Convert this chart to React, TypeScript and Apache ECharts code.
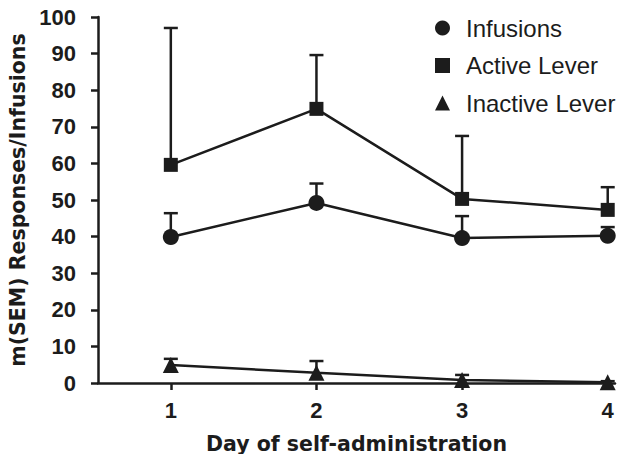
import React, { useEffect, useRef } from "react";
import * as echarts from "echarts";

const days = [1, 2, 3, 4];
const seriesNames = ["Infusions", "Active Lever", "Inactive Lever"];
const infusions = [39.9, 49.2, 39.6, 40.2];
const infusionsSem = [6.5, 5.3, 6.0, 2.4];
const activeLever = [59.6, 74.9, 50.3, 47.3];
const activeLeverSem = [37.4, 14.7, 17.2, 6.2];
const inactiveLever = [4.9, 2.8, 0.8, 0.2];
const inactiveLeverSem = [1.7, 3.2, 1.4, 0.3];

const INK = "#1c1c1c";
const FONT = "'Liberation Sans', Arial, sans-serif";
const NAME_FONT = "'DejaVu Sans', sans-serif";

function errorSeries(values: number[], sem: number[]) {
  return {
    type: "custom",
    silent: true,
    z: 1,
    data: days.map((d, i) => [d, values[i], values[i] + sem[i]]),
    renderItem: (params: any, api: any) => {
      const base = api.coord([api.value(0), api.value(1)]);
      const top = api.coord([api.value(0), api.value(2)]);
      const half = 7;
      return {
        type: "group",
        children: [
          {
            type: "line",
            shape: { x1: base[0], y1: base[1], x2: top[0], y2: top[1] },
            style: { stroke: INK, lineWidth: 2.5 },
          },
          {
            type: "line",
            shape: { x1: top[0] - half, y1: top[1], x2: top[0] + half, y2: top[1] },
            style: { stroke: INK, lineWidth: 2.5 },
          },
        ],
      };
    },
  };
}

function lineSeries(name: string, values: number[], symbol: string, size: number) {
  return {
    name,
    type: "line",
    z: 3,
    data: days.map((d, i) => [d, values[i]]),
    symbol,
    symbolSize: size,
    showAllSymbol: true,
    lineStyle: { color: INK, width: 2.5 },
    itemStyle: { color: INK },
  };
}

export default function App() {
  const ref = useRef<HTMLDivElement>(null);
  useEffect(() => {
    if (!ref.current) return;
    const chart = echarts.init(ref.current, null, { renderer: "svg" });
    const nameText = { fontFamily: NAME_FONT, fontWeight: "bold", color: INK };
    chart.setOption({
      animation: false,
      backgroundColor: "#ffffff",
      textStyle: { fontFamily: FONT },
      grid: {
        left: 98,
        right: 14,
        top: 17,
        bottom: 79,
        containLabel: false,
        outerBoundsMode: "none",
      },
      legend: {
        orient: "vertical",
        left: 430,
        top: 11,
        itemWidth: 15,
        itemHeight: 15,
        itemGap: 13.5,
        textStyle: {
          fontFamily: FONT,
          fontSize: 24,
          color: INK,
          padding: [0, 0, 0, 11],
        },
        data: [
          { name: seriesNames[0], icon: "circle" },
          { name: seriesNames[1], icon: "rect" },
          { name: seriesNames[2], icon: "triangle" },
        ],
      },
      xAxis: {
        type: "value",
        min: 0.5,
        max: 4.05,
        name: "Day of self-administration",
        nameLocation: "middle",
        nameGap: 50,
        nameTextStyle: { ...nameText, fontSize: 20.5 },
        axisLine: { onZero: false, lineStyle: { color: INK, width: 2.5 } },
        axisTick: { show: true, customValues: days, length: 7, lineStyle: { color: INK, width: 2.5 } },
        axisLabel: {
          customValues: days,
          margin: 16,
          fontFamily: FONT,
          fontWeight: "bold",
          fontSize: 22,
          color: INK,
        },
        splitLine: { show: false },
      },
      yAxis: {
        type: "value",
        min: 0,
        max: 100,
        interval: 10,
        name: "m(SEM) Responses/Infusions",
        nameLocation: "middle",
        nameGap: 66,
        nameTextStyle: { ...nameText, fontSize: 20.5 },
        axisLine: { show: true, lineStyle: { color: INK, width: 2.5 } },
        axisTick: { show: true, length: 7, lineStyle: { color: INK, width: 2.5 } },
        axisLabel: {
          margin: 22,
          fontFamily: FONT,
          fontWeight: "bold",
          fontSize: 22,
          color: INK,
        },
        splitLine: { show: false },
      },
      series: [
        errorSeries(infusions, infusionsSem),
        errorSeries(activeLever, activeLeverSem),
        errorSeries(inactiveLever, inactiveLeverSem),
        lineSeries(seriesNames[0], infusions, "circle", 16),
        lineSeries(seriesNames[1], activeLever, "rect", 14),
        lineSeries(seriesNames[2], inactiveLever, "triangle", 16),
      ],
    });
    return () => chart.dispose();
  }, []);
  return <div ref={ref} style={{ width: 629, height: 462, margin: -8 }} />;
}
